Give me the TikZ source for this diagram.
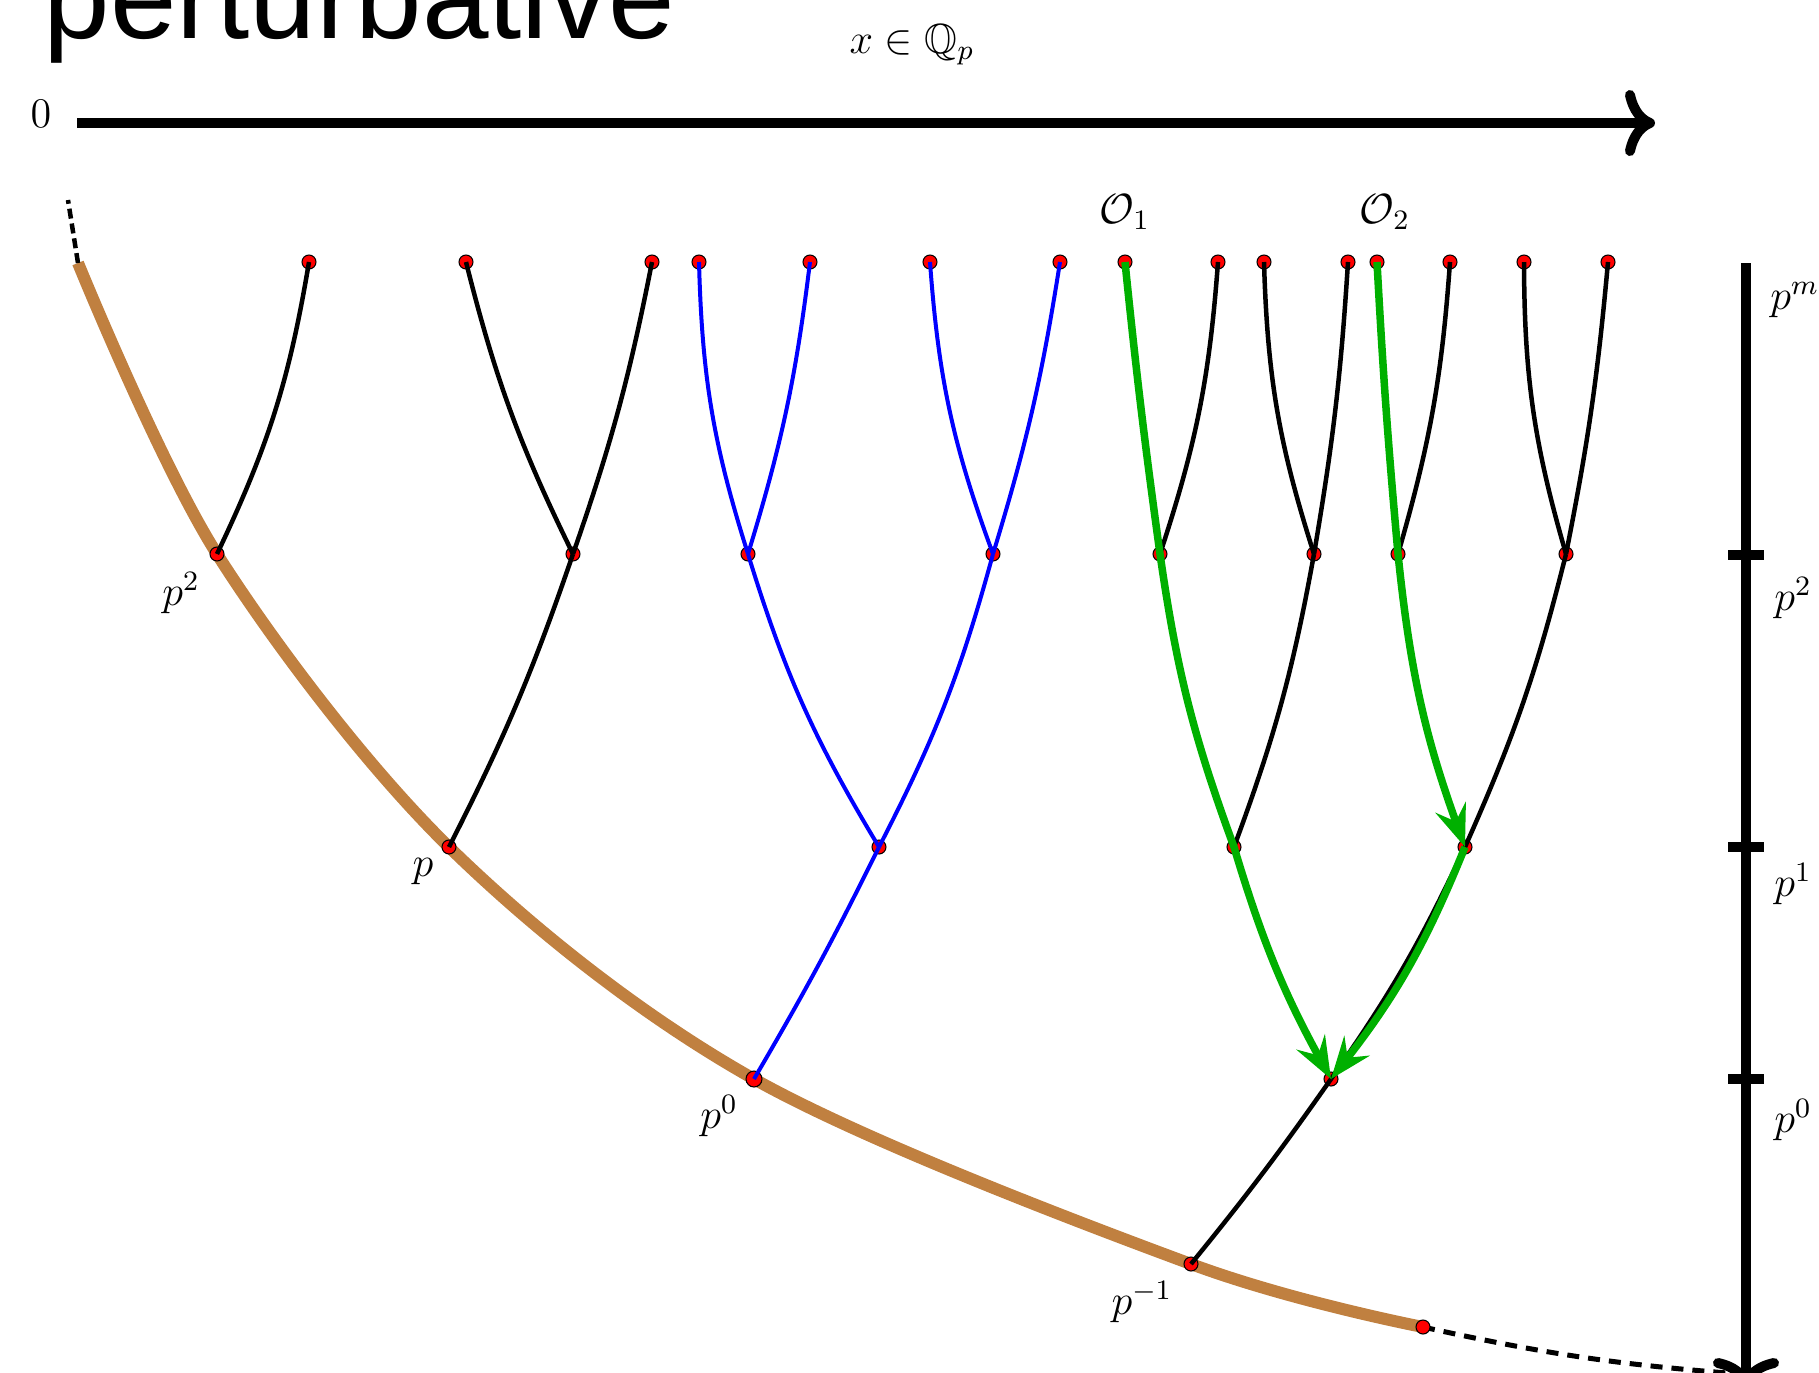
\documentclass[tikz,border=0pt]{standalone}
\usepackage{amssymb}
\usepackage{fontspec}
\newfontfamily\titlefont{Liberation Sans}
\usetikzlibrary{arrows.meta,backgrounds}
\definecolor{spinebrown}{RGB}{192,128,64}
\definecolor{flowgreen}{RGB}{0,176,0}
\tikzset{
  vtx/.style={circle,draw=black,fill=red,line width=0.3pt,inner sep=0pt,minimum size=1.4mm},
  axis/.style={line width=1mm,-{Computer Modern Rightarrow[length=3mm,width=6.6mm]}},
  twig/.style={line width=0.45mm},
  bluetwig/.style={draw=blue,line width=0.4mm},
  flow/.style={draw=flowgreen,line width=0.75mm,-{Stealth[length=4.2mm,width=3.2mm,inset=1.5mm]}},
  lab/.style={font=\large},
}
\begin{document}
\begin{tikzpicture}[x=0.1mm,y=-0.1mm]
\useasboundingbox (0,0) rectangle (1819,1372);
\node[anchor=base west,inner sep=0pt,font=\titlefont\fontsize{34}{40}\selectfont] (title) at (43,38) {perturbative};
\node[lab] (xlab) at (912,45) {$x\in\mathbb{Q}_p$};
\node[lab] (zero) at (41,114) {$0$};
\coordinate (x0) at (77,123);
\coordinate (x1) at (1655,123);
\draw[axis] (x0) -- (x1);
\coordinate (v0) at (1746,263);
\coordinate (v1) at (1746,1388);
\draw[axis] (v0) -- (v1);
\draw[line width=1mm] (1728,555) -- (1764,555);
\draw[line width=1mm] (1728,847) -- (1764,847);
\draw[line width=1mm] (1728,1079) -- (1764,1079);
\node[lab,anchor=west] (rm) at (1758,300) {$p^m$};
\node[lab,anchor=west] (r2) at (1762,598) {$p^2$};
\node[lab,anchor=west] (r1) at (1762,884) {$p^1$};
\node[lab,anchor=west] (r0) at (1762,1120) {$p^0$};
% leaves
\node[vtx] (l1) at (309,262) {};
\node[vtx] (l2) at (466,262) {};
\node[vtx] (l3) at (652,262) {};
\node[vtx] (l4) at (699,262) {};
\node[vtx] (l5) at (810,262) {};
\node[vtx] (l6) at (930,262) {};
\node[vtx] (l7) at (1060,262) {};
\node[vtx] (l8) at (1125,262) {};
\node[vtx] (l9) at (1218,262) {};
\node[vtx] (l10) at (1264,262) {};
\node[vtx] (l11) at (1348,262) {};
\node[vtx] (l12) at (1377,262) {};
\node[vtx] (l13) at (1450,262) {};
\node[vtx] (l14) at (1524,262) {};
\node[vtx] (l15) at (1608,262) {};
\node[lab] (o1) at (1125,212) {$\mathcal{O}_1$};
\node[lab] (o2) at (1385,212) {$\mathcal{O}_2$};
% inner vertices
\node[vtx] (m1) at (217,554) {};
\node[vtx] (m2) at (573,554) {};
\node[vtx] (m3) at (748,554) {};
\node[vtx] (m4) at (993,554) {};
\node[vtx] (m5) at (1160,554) {};
\node[vtx] (m6) at (1314,554) {};
\node[vtx] (m7) at (1398,554) {};
\node[vtx] (m8) at (1566,554) {};
\node[vtx] (n1) at (449,847) {};
\node[vtx] (n2) at (879,847) {};
\node[vtx] (n3) at (1234,847) {};
\node[vtx] (n4) at (1465,847) {};
\node[vtx,minimum size=1.6mm] (z1) at (754,1079) {};
\node[vtx] (z2) at (1331,1079) {};
\node[vtx] (b1) at (1191,1264) {};
\node[vtx] (e1) at (1423,1327) {};
\node[lab] (q2) at (181,593) {$p^2$};
\node[lab] (q1) at (423,872) {$p$};
\node[lab] (q0) at (719,1116) {$p^0$};
\node[lab] (qm) at (1142,1302) {$p^{-1}$};
% spine
\coordinate (s0) at (78,263);
\coordinate (s1) at (68,200);
\coordinate (s2) at (1740,1374);
\begin{scope}[on background layer]
\draw[spinebrown,line width=1.2mm] plot[smooth,tension=0.55] coordinates {(s0) (m1.center) (n1.center) (z1.center) (b1.center) (e1.center)};
\draw[line width=0.45mm,dash pattern=on 1mm off 0.5mm] (s0) -- (s1);
\draw[line width=0.5mm,dash pattern=on 1.2mm off 0.9mm] (e1.center) to[bend right=4] (s2);
\end{scope}
% branches
\draw[twig] (m1.center) to[bend right=8] (l1.center);
\draw[twig] (m2.center) to[bend left=6] (l2.center);
\draw[twig] (m2.center) to[bend right=4] (l3.center);
\draw[twig] (n1.center) to[bend right=4] (m2.center);
\draw[bluetwig] (m3.center) to[bend left=8] (l4.center);
\draw[bluetwig] (m3.center) to[bend right=5] (l5.center);
\draw[bluetwig] (m4.center) to[bend left=8] (l6.center);
\draw[bluetwig] (m4.center) to[bend right=4] (l7.center);
\draw[bluetwig] (n2.center) to[bend left=7] (m3.center);
\draw[bluetwig] (n2.center) to[bend right=6] (m4.center);
\draw[bluetwig] (z1.center) to[bend right=2] (n2.center);
\draw[twig] (m5.center) to[bend right=7] (l9.center);
\draw[twig] (m6.center) to[bend left=8] (l10.center);
\draw[twig] (m6.center) to[bend right=3] (l11.center);
\draw[twig] (n3.center) to[bend right=5] (m6.center);
\draw[twig] (m7.center) to[bend right=6] (l13.center);
\draw[twig] (m8.center) to[bend left=8] (l14.center);
\draw[twig] (m8.center) to[bend right=3] (l15.center);
\draw[twig] (n4.center) to[bend right=5] (m8.center);
\draw[twig] (z2.center) to[bend right=5] (n4.center);
\draw[twig] (b1.center) to[bend right=2] (z2.center);
% green flows
\draw[flow] (l8.center) to[bend right=1] (m5.center) to[bend right=6] (n3.center) to[bend right=6] (z2.center);
\draw[flow] (l12.center) to[bend right=1] (m7.center) to[bend right=7] (n4.center);
\draw[flow] (n4.center) to[bend left=8] (z2.center);
\end{tikzpicture}
\end{document}
